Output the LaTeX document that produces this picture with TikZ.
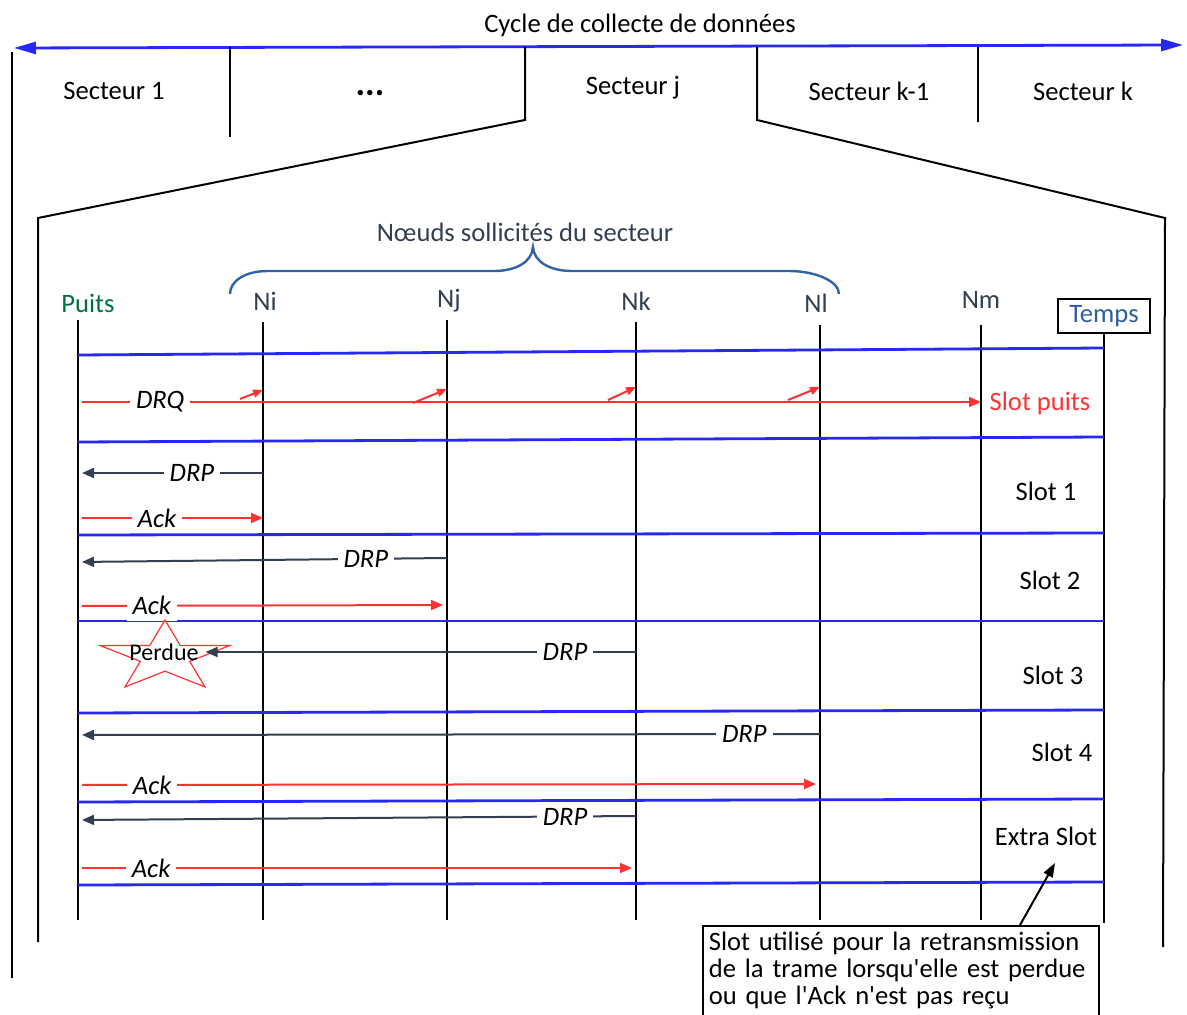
\documentclass[tikz,border=0pt]{standalone}
\usepackage{fontspec}
\setmainfont{Carlito}[Ligatures=TeXOff]
\usetikzlibrary{arrows.meta}

\definecolor{slotblue}{RGB}{40,40,245}
\definecolor{msgred}{RGB}{255,50,50}
\definecolor{slate}{RGB}{51,63,80}
\definecolor{puitsgreen}{RGB}{0,112,60}
\definecolor{bracecol}{RGB}{46,100,165}
\definecolor{tempsblue}{RGB}{46,94,158}

\begin{document}
\begin{tikzpicture}[
        x=0.5pt, y=-0.5pt,
        every node/.style={font=\fontsize{13.3}{16}\selectfont},
        frame/.style={draw=black, line width=1pt},
        life/.style={draw=black, line width=1.2pt},
        slotline/.style={draw=slotblue, line width=1.4pt},
        req/.style={draw=msgred, line width=1pt, -{Triangle[length=6pt,width=5pt]}},
        rep/.style={draw=slate, line width=1pt, -{Triangle[length=6pt,width=5pt]}},
        msglabel/.style={fill=white, inner sep=3pt, font=\fontsize{13.3}{16}\selectfont\itshape},
        header/.style={text=slate}
    ]
    \useasboundingbox (0,0) rectangle (1187,1015);

    % cycle and sectors
    \node (cycle) at (640,25) {Cycle de collecte de données};
    \draw[slotblue, line width=1.4pt, {Triangle[length=11pt,width=6pt]}-{Triangle[length=11pt,width=6pt]}] (14,48) -- (1183,45);
    \draw[frame] (12,52) -- (12,978);
    \draw[frame] (230,47) -- (230,137);
    \draw[frame] (525,47) -- (525,120) -- (38,218) -- (38,942);
    \draw[frame] (757,47) -- (757,120) -- (1165,218) -- (1163,947);
    \draw[frame] (978,47) -- (978,122);
    \node (s1) at (114,91) {Secteur 1};
    \node[font=\fontsize{18}{20}\selectfont\bfseries] (sdots) at (370,93) {...};
    \node (sj) at (633,88) {Secteur j};
    \node (sk1) at (869,91) {Secteur k-1};
    \node (sk) at (1083,91) {Secteur k};

    % nodes of the sector
    \node[header] (noeuds) at (525,232) {Nœuds sollicités du secteur};
    \draw[bracecol, line width=1.2pt] (230,294) .. controls (230,281) and (245,271) .. (268,271) -- (494,271)
        .. controls (516,271) and (532,262) .. (533,247) .. controls (534,262) and (550,271) .. (572,271)
        -- (789,271) .. controls (815,271) and (839,281) .. (839,294);
    \node[text=puitsgreen] (puits) at (88,303) {Puits};
    \node[header] (ni) at (265,301) {Ni};
    \node[header] (nj) at (449,301) {Nj};
    \node[header] (nk) at (636,301) {Nk};
    \node[header] (nl) at (816,303) {Nl};
    \node[header] (nm) at (981,300) {Nm};
    \node[draw, line width=0.8pt, text=tempsblue, minimum width=46pt, minimum height=17pt, inner sep=2pt] (temps) at (1104,316) {Temps};

    \foreach \n/\x/\t in {puits/78/320, ni/263/322, nj/447/320, nk/636/322, nl/820/325, nm/981/325} {
        \coordinate (\n-l) at (\x,\t);
        \draw[life] (\n-l) -- (\x,920);
    }
    \coordinate (temps-l) at (temps.south);
    \draw[life] (temps-l) -- (1104,923);

    % slots
    \foreach \a/\b in {355/348, 442/437, 535/533, 621/621, 713/710, 802/799, 885/882}
        \draw[slotline] (puits-l |- 0,\a) -- (temps-l |- 0,\b);

    % DRQ
    \draw[req, shorten <=2pt] (puits-l |- 0,402) -- (nm-l |- 0,402) node[msglabel, pos=0.091] {DRQ};
    \foreach \n/\a/\b/\c in {ni/240/399/390, nj/413/403/389, nk/608/400/387, nl/788/400/387}
        \draw[req, -{Triangle[length=5pt,width=4pt]}] (\a,\b) -- (\n-l |- 0,\c);
    \node[text=msgred] (slotpuits) at (1040,403) {Slot puits};

    % slot 1
    \draw[rep, shorten >=2pt] (ni-l |- 0,473) -- (puits-l |- 0,473) node[msglabel, pos=0.384] {DRP};
    \draw[req, shorten <=2pt] (puits-l |- 0,518) -- (ni-l |- 0,518) node[msglabel, pos=0.427] {Ack};
    \node (slot1) at (1046,491) {Slot 1};

    % slot 2
    \draw[rep, shorten >=2pt] (nj-l |- 0,558) -- (puits-l |- 0,562) node[msglabel, pos=0.22] {DRP};
    \draw[req, shorten <=2pt, shorten >=2pt] (puits-l |- 0,606) -- (nj-l |- 0,605) node[msglabel, pos=0.2] {Ack};
    \node (slot2) at (1050,580) {Slot 2};

    % slot 3
    \begin{scope}[shift={(165,657)}, x=34pt, y=18.5pt]
        \draw[msgred, line width=0.6pt] (90:1) -- (126:0.382) -- (162:1) -- (198:0.382) -- (234:1)
            -- (270:0.382) -- (306:1) -- (342:0.382) -- (18:1) -- (54:0.382) -- cycle;
    \end{scope}
    \node[font=\fontsize{12}{14}\selectfont] (perdue) at (164,652) {Perdue};
    \draw[rep] (nk-l |- 0,652) -- (perdue.east) node[msglabel, pos=0.165] {DRP};
    \node (slot3) at (1053,675) {Slot 3};

    % slot 4
    \draw[rep, shorten >=2pt] (nl-l |- 0,734) -- (puits-l |- 0,735) node[msglabel, pos=0.102] {DRP};
    \draw[req, shorten <=2pt, shorten >=2pt] (puits-l |- 0,785) -- (nl-l |- 0,784) node[msglabel, pos=0.1] {Ack};
    \node (slot4) at (1062,752) {Slot 4};

    % extra slot
    \draw[rep, shorten >=2pt] (nk-l |- 0,816) -- (puits-l |- 0,820) node[msglabel, pos=0.127] {DRP};
    \draw[req, shorten <=2pt, shorten >=2pt] (puits-l |- 0,868) -- (nk-l |- 0,868) node[msglabel, pos=0.131] {Ack};
    \node (extra) at (1046,836) {Extra Slot};

    \node[draw, line width=0.8pt, anchor=north west, align=left, text width=192pt, inner xsep=3pt, inner ysep=3pt,
        font=\fontsize{13.3}{13.5}\selectfont] (note) at (702,925)
        {Slot utilisé pour la retransmission\\ de la trame lorsqu'elle est perdue\\ ou que l'Ack n'est pas reçu\\ \strut};
    \coordinate (extratip) at (1055,863);
    \draw[black, line width=1pt, -{Triangle[length=7pt,width=5pt]}] (note.north -| 1020,0) -- (extratip);
\end{tikzpicture}
\end{document}
